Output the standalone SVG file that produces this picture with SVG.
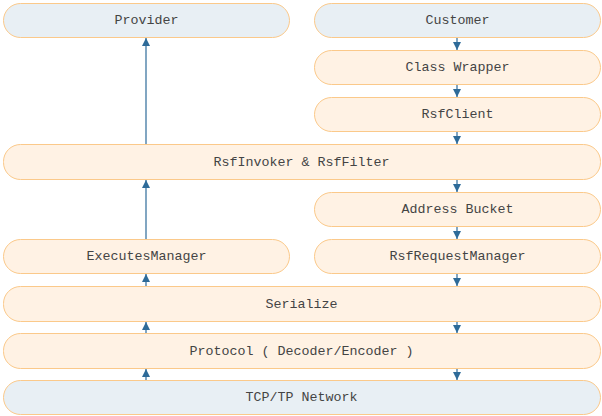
<svg xmlns="http://www.w3.org/2000/svg" width="602" height="416" viewBox="0 0 602 416">
<style>
.o{fill:#fff2e4;stroke:#fbc98a;stroke-width:1}
.b{fill:#e8eff4;stroke:#fbc98a;stroke-width:1}
text{font-family:"Liberation Mono","Courier New",monospace;font-size:13.33px;fill:#444;text-anchor:middle}
.c line{stroke:#2e6b99;stroke-width:1.2;marker-end:url(#ah)}
</style>
<defs>
<marker id="ah" viewBox="0 0 8 8" refX="8" refY="4" markerWidth="8" markerHeight="8" markerUnits="userSpaceOnUse" orient="auto">
<path d="M0,0 L8,4 L0,8 z" fill="#2e6b99"/>
</marker>
</defs>
<g id="provider"><rect class="b" x="3.5" y="3.5" width="286" height="34" rx="17"/><text x="146.5" y="23.5">Provider</text></g>
<g id="customer"><rect class="b" x="314.5" y="3.5" width="286" height="34" rx="17"/><text x="457.5" y="23.5">Customer</text></g>
<g id="classwrapper"><rect class="o" x="314.5" y="50.5" width="286" height="34" rx="17"/><text x="457.5" y="71">Class Wrapper</text></g>
<g id="rsfclient"><rect class="o" x="314.5" y="97.5" width="286" height="34" rx="17"/><text x="457.5" y="118">RsfClient</text></g>
<g id="rsfinvoker"><rect class="o" x="3.5" y="144.5" width="597" height="35" rx="17"/><text x="301.5" y="166">RsfInvoker &amp; RsfFilter</text></g>
<g id="addressbucket"><rect class="o" x="314.5" y="192.5" width="286" height="34" rx="17"/><text x="457.5" y="213">Address Bucket</text></g>
<g id="executesmanager"><rect class="o" x="3.5" y="239.5" width="286" height="34" rx="17"/><text x="146.5" y="260">ExecutesManager</text></g>
<g id="rsfrequestmanager"><rect class="o" x="314.5" y="239.5" width="286" height="34" rx="17"/><text x="457.5" y="260">RsfRequestManager</text></g>
<g id="serialize"><rect class="o" x="3.5" y="286.5" width="597" height="35" rx="17"/><text x="301.5" y="307.5">Serialize</text></g>
<g id="protocol"><rect class="o" x="3.5" y="333.5" width="597" height="35" rx="17"/><text x="301.5" y="354.5">Protocol ( Decoder/Encoder )</text></g>
<g id="network"><rect class="b" x="3.5" y="380.5" width="597" height="34" rx="17"/><text x="301.5" y="401">TCP/TP Network</text></g>
<g class="c" id="connectors">
<line x1="146" y1="144" x2="146" y2="38"/>
<line x1="146" y1="239" x2="146" y2="180"/>
<line x1="146" y1="286" x2="146" y2="274"/>
<line x1="146" y1="333" x2="146" y2="322"/>
<line x1="146" y1="380" x2="146" y2="369"/>
<line x1="457" y1="38" x2="457" y2="50"/>
<line x1="457" y1="85" x2="457" y2="97"/>
<line x1="457" y1="132" x2="457" y2="144"/>
<line x1="457" y1="180" x2="457" y2="192"/>
<line x1="457" y1="227" x2="457" y2="239"/>
<line x1="457" y1="274" x2="457" y2="286"/>
<line x1="457" y1="322" x2="457" y2="333"/>
<line x1="457" y1="369" x2="457" y2="380"/>
</g>
</svg>
